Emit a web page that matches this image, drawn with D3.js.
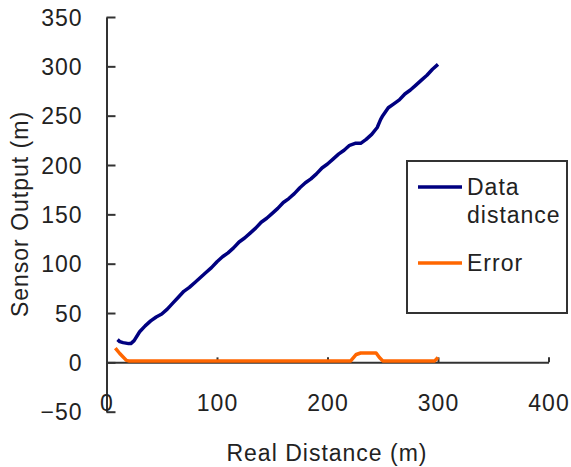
<!DOCTYPE html>
<html>
<head>
<meta charset="utf-8">
<script src="https://cdn.jsdelivr.net/npm/d3@7"></script>
<style>
  html, body { margin: 0; padding: 0; background: #fff; }
  svg text { font-family: "Liberation Sans", Arial, sans-serif; fill: #222; }
</style>
</head>
<body>
<svg id="chart" width="571" height="467"></svg>
<script>
// ---- data ----
const realDist = [10, 12, 15, 20, 22, 25, 30, 35, 40, 45, 50, 55, 60, 65, 70, 75, 80, 85, 90, 95,
  100, 105, 110, 115, 120, 125, 130, 135, 140, 145, 150, 155, 160, 165, 170, 175, 180, 185, 190, 195,
  200, 205, 210, 215, 220, 225, 230, 235, 240, 245, 248, 250, 255, 260, 265, 270, 275, 280, 285, 290, 295, 300];
const sensorOut = [23, 21, 20, 19, 19, 22, 31, 37, 42, 46, 49, 54, 60, 66, 72, 76, 81, 86, 91, 96,
  102, 107, 111, 116, 122, 126, 131, 136, 142, 146, 151, 156, 162, 166, 171, 177, 182, 186, 191, 197,
  201, 206, 211, 215, 220, 222, 222, 226, 231, 238, 246, 250, 258, 262, 266, 272, 276, 281, 286, 291, 297, 302];
const errDist = [8, 12, 18, 20, 50, 100, 150, 200, 221, 226, 230, 244, 247, 250, 275, 297, 300];
const errVal  = [14.5, 9, 2, 1.5, 1.5, 1.5, 1.5, 1.5, 1.5, 8, 9.5, 9.5, 5, 1.5, 1.5, 1.5, 5];
const xTicks = [0, 100, 200, 300, 400];
const yTicks = [-50, 0, 50, 100, 150, 200, 250, 300, 350];
const seriesNames = ["Data\ndistance", "Error"];
const seriesColors = ["#000080", "#ff6600"];

const svg = d3.select("#chart");
const x = d3.scaleLinear().domain([0, 400]).range([106.5, 548.5]);
const y = d3.scaleLinear().domain([-50, 350]).range([411.7, 17]);
const FS = 23;

// y axis
const yAxis = d3.axisLeft(y).tickValues(yTicks).tickSizeInner(-9).tickSizeOuter(0).tickPadding(24);
const gy = svg.append("g").attr("transform", `translate(${x(0)},0)`).call(yAxis);
gy.selectAll("text").attr("font-size", FS).attr("dy", "0.36em").style("letter-spacing", "1px")
  .attr("font-family", "Liberation Sans, Arial, sans-serif");
gy.selectAll("line, path").attr("stroke", "#333").attr("stroke-width", 2);

// x axis at y=0
const xAxis = d3.axisBottom(x).tickValues(xTicks).tickSizeInner(-5).tickSizeOuter(0).tickPadding(32);
const gx = svg.append("g").attr("transform", `translate(0,${y(0)})`).call(xAxis);
gx.selectAll("text").attr("font-size", FS).style("letter-spacing", "1px")
  .attr("font-family", "Liberation Sans, Arial, sans-serif");
gx.selectAll("line, path").attr("stroke", "#333").attr("stroke-width", 2);
gx.selectAll(".tick").filter(d => d === 0).select("line").remove();

// lines
const sensorData = realDist.map((d, i) => [d, sensorOut[i]]);
const errData = errDist.map((d, i) => [d, errVal[i]]);
const line = d3.line().x(d => x(d[0])).y(d => y(d[1]));
svg.append("path").datum(errData).attr("d", line).attr("fill", "none")
  .attr("stroke", seriesColors[1]).attr("stroke-width", 3.5).attr("stroke-linejoin", "round");
svg.append("path").datum(sensorData).attr("d", line).attr("fill", "none")
  .attr("stroke", seriesColors[0]).attr("stroke-width", 3.5).attr("stroke-linejoin", "round");

// axis titles
svg.append("text").attr("x", 327).attr("y", 461).attr("text-anchor", "middle")
  .attr("font-size", FS).style("letter-spacing", "1px").text("Real Distance (m)");
svg.append("text").attr("transform", "translate(28,214) rotate(-90)").attr("text-anchor", "middle")
  .attr("font-size", FS).style("letter-spacing", "1px").text("Sensor Output (m)");

// legend
const lg = svg.append("g");
lg.append("rect").attr("x", 407).attr("y", 161).attr("width", 160).attr("height", 152)
  .attr("fill", "#fff").attr("stroke", "#333").attr("stroke-width", 2);
const legY = [187, 263];
seriesNames.forEach((name, i) => {
  lg.append("line").attr("x1", 418).attr("x2", 462).attr("y1", legY[i]).attr("y2", legY[i])
    .attr("stroke", seriesColors[i]).attr("stroke-width", 3.5);
  const t = lg.append("text").attr("x", 467).attr("y", legY[i]).attr("dy", "0.36em")
    .attr("font-size", FS).style("letter-spacing", "1px");
  name.split("\n").forEach((s, j) => {
    t.append("tspan").attr("x", 467).attr("dy", j === 0 ? "0.36em" : 28).text(s);
  });
});
</script>
</body>
</html>
